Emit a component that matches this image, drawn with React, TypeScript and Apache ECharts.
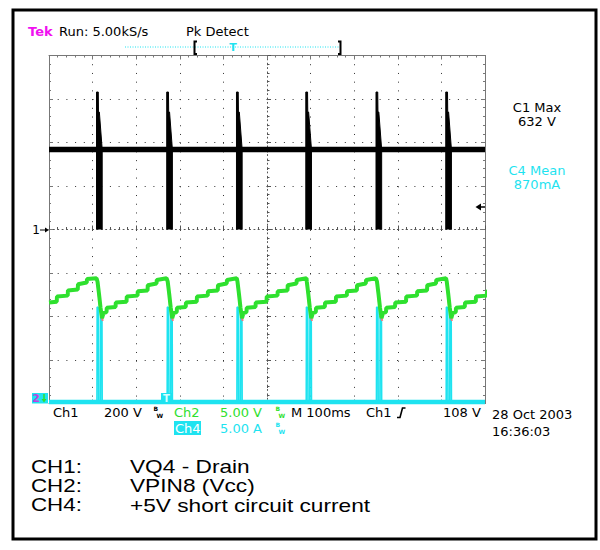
import React, { useEffect, useRef } from "react";
import * as echarts from "echarts";

// ---- data (time in ms, 100 ms/div) ----
const timeRange = [0, 1000];
// CH1 (VQ4 drain, volts) : switching bursts
const burstTimes = [109, 270, 430, 589, 750, 910];
const ch1FlatLevel = [
  [0, 368],
  [1000, 368],
];
const ch1BurstShape = [
  [0, 0],
  [0, 632],
  [4, 632],
  [4.5, 540],
  [6.5, 540],
  [13, 368],
  [13, 0],
];
// CH2 (VPIN8 Vcc, volts)
const ch2Lead = [
  [0, 14.6],
  [17.7, 14.7],
  [18.3, 15.3],
  [42.9, 15.4],
  [43.5, 16.0],
  [65.9, 16.1],
  [66.5, 16.7],
  [86.5, 16.9],
  [87.1, 17.3],
  [109, 17.4],
];
const ch2CycleShape = [
  [0, 17.4],
  [2.3, 17.0],
  [5.7, 15.6],
  [9.2, 14.0],
  [12.6, 12.8],
  [16.1, 13.4],
  [22.9, 13.5],
  [23.5, 14.0],
  [43.6, 14.1],
  [44.2, 14.6],
  [68.8, 14.7],
  [69.4, 15.3],
  [94.0, 15.4],
  [94.6, 15.9],
  [117.0, 16.0],
  [117.6, 16.6],
  [137.6, 16.8],
  [138.2, 17.2],
  [160.6, 17.4],
];
// red trace along the Vcc falls
const ch3FallShape = [
  [1.5, 17.0],
  [4.5, 15.8],
  [8, 14.0],
  [11.5, 13.0],
  [14.5, 12.5],
];
// CH4 (+5V short circuit current, amps)
const ch4Baseline = [
  [0, 0.17],
  [1000, 0.17],
];
const ch4PulseShape = [
  [1, 0.17],
  [1.5, 11.1],
  [4.5, 11.0],
  [5, 0.17],
  [9, 0.17],
  [9.5, 9.9],
  [12.5, 9.8],
  [13, 0.17],
];

const legendRows = [
  ["CH1:", "VQ4 - Drain"],
  ["CH2:", "VPIN8 (Vcc)"],
  ["CH4:", "+5V short circuit current"],
];

const CYAN = "#1ee3f0";
const GREEN = "#2ee02e";
const MAGENTA = "#f010f0";
const SF = '"DejaVu Sans"';

function repeatShape(shape: number[][], times: number[]) {
  const out: any[] = [];
  times.forEach((t0) => {
    shape.forEach(([dt, v]) => out.push([t0 + dt, v]));
    out.push([t0 + shape[shape.length - 1][0], "-"]);
  });
  return out;
}

function chainShape(lead: number[][], shape: number[][], times: number[]) {
  const out: any[] = lead.map((p) => [p[0], p[1]]);
  times.forEach((t0) => {
    shape.forEach(([dt, v]) => out.push([t0 + dt, v]));
  });
  return out;
}

function txt(
  text: string,
  x: number,
  y: number,
  fill: string,
  size = 13,
  weight = "normal",
  align = "left",
  family = SF
) {
  return {
    type: "text",
    x,
    y,
    z: 100,
    silent: true,
    style: {
      text,
      x: 0,
      y: 0,
      fill,
      font: `${weight} ${size}px ${family}`,
      textAlign: align,
      textVerticalAlign: "middle",
    },
  };
}

// small "B over W" bandwidth-limit glyph
function bw(x: number, y: number, color: string) {
  return [txt("B", x, y - 3.3, color, 6, "bold"), txt("W", x + 3, y + 3.3, color, 6, "bold")];
}

const frameAxisLine = { show: true, onZero: false, lineStyle: { color: "#777", width: 1 } };
const frameTick = { show: true, inside: true, length: 4, lineStyle: { color: "#777" } };
const frameMinor = { show: true, splitNumber: 5, length: 2, lineStyle: { color: "#777" } };
const dotted = { show: true, lineStyle: { color: "#333", width: 1, type: [1, 7.72] } };

export default function App() {
  const ref = useRef<HTMLDivElement>(null);
  useEffect(() => {
    if (!ref.current) return;
    const chart = echarts.init(ref.current, undefined, { renderer: "svg" });
    const gridRect = { left: 49, top: 55.5, width: 436, height: 348 };

    const graphic: any[] = [
      {
        type: "rect",
        z: 100,
        shape: { x: 13, y: 10, width: 583, height: 529 },
        style: { fill: "none", stroke: "#000", lineWidth: 3 },
      },
      txt("Tek", 28, 31.5, MAGENTA, 13, "bold"),
      txt("Run: 5.00kS/s", 59, 31.5, "#000"),
      txt("Pk Detect", 186, 31.5, "#000"),
      {
        type: "line",
        z: 100,
        shape: { x1: 125, y1: 47, x2: 342, y2: 47 },
        style: { stroke: CYAN, lineWidth: 1, lineDash: [1, 1.5] },
      },
      {
        type: "polyline",
        z: 100,
        shape: { points: [[197, 41.5], [194.5, 41.5], [194.5, 54], [197, 54]] },
        style: { stroke: "#000", lineWidth: 2, fill: "none" },
      },
      {
        type: "polyline",
        z: 100,
        shape: { points: [[338, 41.5], [340.5, 41.5], [340.5, 54], [338, 54]] },
        style: { stroke: "#000", lineWidth: 2, fill: "none" },
      },
      txt("T", 233, 47.5, CYAN, 11, "bold", "center"),
      txt("C1 Max", 537, 107.5, "#000", 13, "normal", "center"),
      txt("632 V", 537, 121.3, "#000", 13, "normal", "center"),
      txt("C4 Mean", 537, 170.8, CYAN, 13, "normal", "center"),
      txt("870mA", 537, 184.6, CYAN, 13, "normal", "center"),
      // trigger level marker
      {
        type: "polygon",
        z: 100,
        shape: { points: [[475.5, 207], [481, 203.5], [481, 210.5]] },
        style: { fill: "#000" },
      },
      {
        type: "line",
        z: 100,
        shape: { x1: 480, y1: 207, x2: 485, y2: 207 },
        style: { stroke: "#000", lineWidth: 1.5 },
      },
      // ch1 ground marker
      txt("1", 36, 230, "#000", 12, "normal", "center"),
      {
        type: "line",
        z: 100,
        shape: { x1: 40, y1: 230, x2: 46, y2: 230 },
        style: { stroke: "#000", lineWidth: 1 },
      },
      {
        type: "polygon",
        z: 100,
        shape: { points: [[49, 230], [45, 227.5], [45, 232.5]] },
        style: { fill: "#000" },
      },
      // ch2 / ch4 offset marker
      {
        type: "rect",
        z: 99,
        shape: { x: 32, y: 393, width: 16, height: 10.5 },
        style: { fill: CYAN },
      },
      txt("2", 36, 398.5, "#c040e0", 11, "bold", "center"),
      {
        type: "line",
        z: 100,
        shape: { x1: 44, y1: 394, x2: 44, y2: 400 },
        style: { stroke: GREEN, lineWidth: 1.5 },
      },
      {
        type: "polygon",
        z: 100,
        shape: { points: [[41.5, 399], [46.5, 399], [44, 402.5]] },
        style: { fill: GREEN },
      },
      // trigger position marker at bottom
      {
        type: "rect",
        z: 99,
        shape: { x: 161, y: 393, width: 11, height: 11 },
        style: { fill: CYAN },
      },
      txt("T", 166.5, 398.5, "#d8ffff", 10, "bold", "center"),
      // status line
      txt("Ch1", 53, 412, "#000"),
      txt("200 V", 104, 412, "#000"),
      ...bw(153.5, 412, "#000"),
      txt("Ch2", 174, 412, GREEN),
      txt("5.00 V", 220, 412, GREEN),
      ...bw(275.5, 412, GREEN),
      txt("M 100ms", 291, 412, "#000"),
      txt("Ch1", 366, 412, "#000"),
      {
        type: "polyline",
        z: 100,
        shape: { points: [[397, 417.5], [400, 417.5], [402.5, 408], [405.5, 408]] },
        style: { stroke: "#000", lineWidth: 1.6, fill: "none" },
      },
      txt("108 V", 443, 412, "#000"),
      {
        type: "rect",
        z: 99,
        shape: { x: 174, y: 421, width: 27, height: 14 },
        style: { fill: CYAN },
      },
      txt("Ch4", 175, 428, "#ffffff"),
      txt("5.00 A", 220, 428, CYAN),
      ...bw(275.5, 428, CYAN),
      txt("28 Oct 2003", 492, 414.5, "#000"),
      txt("16:36:03", 492, 431.5, "#000"),
    ];

    legendRows.forEach(([ch, desc], i) => {
      const y = 466.5 + i * 19.3;
      const a: any = txt(ch, 31, y, "#000", 18, "normal", "left", '"Liberation Sans", Arial');
      a.scaleX = 1.24;
      const b: any = txt(desc, 130, y, "#000", 18, "normal", "left", '"Liberation Sans", Arial');
      b.scaleX = 1.26;
      graphic.push(a, b);
    });

    const lineBase = {
      type: "line",
      xAxisIndex: 0,
      showSymbol: false,
      symbol: "none",
      silent: true,
      connectNulls: false,
      clip: true,
    };

    chart.setOption({
      animation: false,
      backgroundColor: "#ffffff",
      grid: [{ ...gridRect }, { ...gridRect }],
      xAxis: [
        {
          gridIndex: 0,
          type: "value",
          min: timeRange[0],
          max: timeRange[1],
          interval: 100,
          position: "bottom",
          axisLine: frameAxisLine,
          axisTick: frameTick,
          minorTick: frameMinor,
          axisLabel: { show: false },
          splitLine: dotted,
        },
        {
          gridIndex: 0,
          type: "value",
          min: timeRange[0],
          max: timeRange[1],
          interval: 100,
          position: "top",
          axisLine: frameAxisLine,
          axisTick: frameTick,
          minorTick: frameMinor,
          axisLabel: { show: false },
          splitLine: { show: false },
        },
        {
          gridIndex: 1,
          type: "value",
          min: -5,
          max: 5,
          interval: 1,
          position: "bottom",
          axisLine: { show: true, onZero: true, lineStyle: { color: "#555", width: 1, type: [1, 3.36] } },
          axisTick: { show: true, inside: true, length: 4, lineStyle: { color: "#555" } },
          minorTick: { show: true, splitNumber: 5, length: 2.5, lineStyle: { color: "#555" } },
          axisLabel: { show: false },
          splitLine: { show: false },
        },
      ],
      yAxis: [
        {
          gridIndex: 0,
          type: "value",
          min: -800,
          max: 800,
          interval: 200,
          position: "left",
          axisLine: frameAxisLine,
          axisTick: frameTick,
          minorTick: frameMinor,
          axisLabel: { show: false },
          splitLine: { show: true, lineStyle: { color: "#333", width: 1, type: [1, 7.7] } },
        },
        {
          gridIndex: 0,
          type: "value",
          min: -4,
          max: 4,
          interval: 1,
          position: "right",
          axisLine: frameAxisLine,
          axisTick: frameTick,
          minorTick: frameMinor,
          axisLabel: { show: false },
          splitLine: { show: false },
        },
        { gridIndex: 0, type: "value", min: 3, max: 43, show: false, splitLine: { show: false } },
        { gridIndex: 0, type: "value", min: 0, max: 40, show: false, splitLine: { show: false } },
        {
          gridIndex: 1,
          type: "value",
          min: -4,
          max: 4,
          interval: 1,
          position: "left",
          axisLine: { show: true, onZero: true, lineStyle: { color: "#555", width: 1, type: [1, 3.35] } },
          axisTick: { show: true, inside: true, length: 4, lineStyle: { color: "#555" } },
          minorTick: { show: true, splitNumber: 5, length: 2.5, lineStyle: { color: "#555" } },
          axisLabel: { show: false },
          splitLine: { show: false },
        },
      ],
      series: [
        {
          ...lineBase,
          name: "CH4 baseline",
          yAxisIndex: 3,
          data: ch4Baseline,
          lineStyle: { color: CYAN, width: 4.5 },
          z: 2,
        },
        {
          ...lineBase,
          name: "CH4",
          yAxisIndex: 3,
          data: repeatShape(ch4PulseShape, burstTimes),
          lineStyle: { color: CYAN, width: 1.6 },
          z: 3,
        },
        {
          ...lineBase,
          name: "CH3",
          yAxisIndex: 2,
          data: repeatShape(ch3FallShape, burstTimes),
          lineStyle: { color: "#f07a7a", width: 2 },
          z: 4,
        },
        {
          ...lineBase,
          name: "CH2",
          yAxisIndex: 2,
          data: chainShape(ch2Lead, ch2CycleShape, burstTimes),
          lineStyle: { color: GREEN, width: 4 },
          z: 5,
        },
        {
          ...lineBase,
          name: "CH1",
          yAxisIndex: 0,
          data: ch1FlatLevel,
          lineStyle: { color: "#000", width: 5.5 },
          z: 6,
        },
        {
          ...lineBase,
          name: "CH1 bursts",
          yAxisIndex: 0,
          data: repeatShape(ch1BurstShape, burstTimes),
          lineStyle: { color: "#000", width: 1 },
          areaStyle: { color: "#000", opacity: 1, origin: "auto" },
          z: 6,
        },
      ],
      graphic,
    });
    return () => chart.dispose();
  }, []);
  return (
    <div
      ref={ref}
      style={{ position: "absolute", left: 0, top: 0, width: 600, height: 550, background: "#fff" }}
    />
  );
}
